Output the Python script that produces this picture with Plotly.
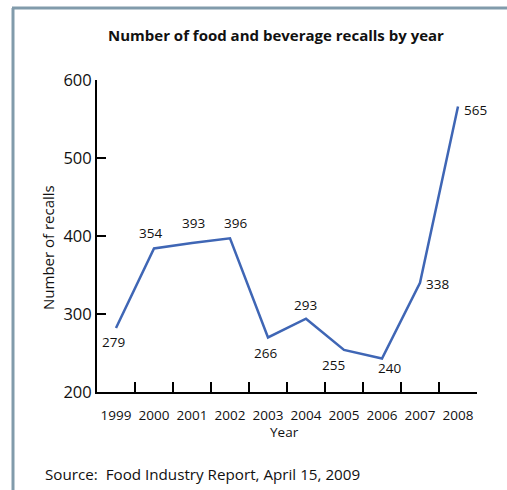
import plotly.graph_objects as go

years = ["1999", "2000", "2001", "2002", "2003", "2004", "2005", "2006", "2007", "2008"]
# heights at which the line is drawn in the picture
plotted_recalls = [282, 384, 391, 397, 270, 294, 254, 243, 340, 566]
# numbers printed next to the line
label_recalls = [279, 354, 393, 396, 266, 293, 255, 240, 338, 565]
y_ticks = [200, 300, 400, 500, 600]

# label offsets (pixels) relative to the plotted point
label_dx = [-3, -4, 1, 5, -3, -1, -11, 7, 17, 17]
label_dy = [-14, 15, 20, 15, -16, 14, -15, -10, -1, -3]

FONT = "Open Sans"
L, R, T, B = 97, 30, 80, 98
W, H = 507, 490
pw, ph = W - L - R, H - T - B

def px(x):
    return (x - L) / pw

def py(y):
    return (H - B - y) / ph

fig = go.Figure()
fig.add_trace(go.Scatter(
    x=years, y=plotted_recalls, mode="lines",
    line=dict(color="#3f66b5", width=2.5),
    hoverinfo="skip", showlegend=False,
))

annotations = []
for i, (yv, lab, dx, dy) in enumerate(zip(plotted_recalls, label_recalls, label_dx, label_dy)):
    annotations.append(dict(
        x=i, y=yv, xref="x", yref="y", text=str(lab), showarrow=False,
        xanchor="center", yanchor="middle",
        xshift=dx, yshift=dy, font=dict(family=FONT, size=13.5, color="#111"),
    ))

annotations += [
    dict(text="<b>Number of food and beverage recalls by year</b>", xref="paper", yref="paper",
         x=px(276), y=py(35), xanchor="center", yanchor="middle", showarrow=False,
         font=dict(family=FONT, size=15, color="#111")),
    dict(text="Number of recalls", xref="paper", yref="paper", x=px(48), y=py(247),
         xanchor="center", yanchor="middle",
         textangle=-90, showarrow=False, font=dict(family=FONT, size=15, color="#111")),
    dict(text="Year", xref="paper", yref="paper", x=px(284), y=py(432),
         xanchor="center", yanchor="middle",
         showarrow=False, font=dict(family=FONT, size=13.5, color="#111")),
    dict(text="Source:  Food Industry Report, April 15, 2009", xref="paper", yref="paper",
         x=px(43), y=py(474), xanchor="left", yanchor="middle", showarrow=False,
         font=dict(family=FONT, size=15.2, color="#111")),
]

shapes = [
    dict(type="line", xref="paper", yref="paper", x0=px(13), x1=px(13), y0=py(8), y1=py(520),
         line=dict(color="#819bab", width=3)),
    dict(type="line", xref="paper", yref="paper", x0=px(12), x1=px(530), y0=py(8), y1=py(8),
         line=dict(color="#819bab", width=3)),
]

fig.update_layout(
    width=W, height=H,
    margin=dict(l=L, r=R, t=T, b=B),
    paper_bgcolor="white", plot_bgcolor="white",
    annotations=annotations, shapes=shapes,
    xaxis=dict(type="category", range=[-0.5, 9.5], tickson="boundaries", tickangle=0,
               ticks="inside", ticklen=10, tickwidth=2, tickcolor="black",
               ticklabelstandoff=10,
               showline=True, linewidth=2, linecolor="black", showgrid=False, zeroline=False,
               tickfont=dict(family=FONT, size=13.5, color="#111")),
    yaxis=dict(range=[200, 600], tickvals=y_ticks, ticks="inside", ticklen=9, tickwidth=2,
               tickcolor="black", showline=True, linewidth=2, linecolor="black",
               showgrid=False, zeroline=False,
               tickfont=dict(family=FONT, size=16.5, color="#111")),
)

fig.write_html("out.html")
